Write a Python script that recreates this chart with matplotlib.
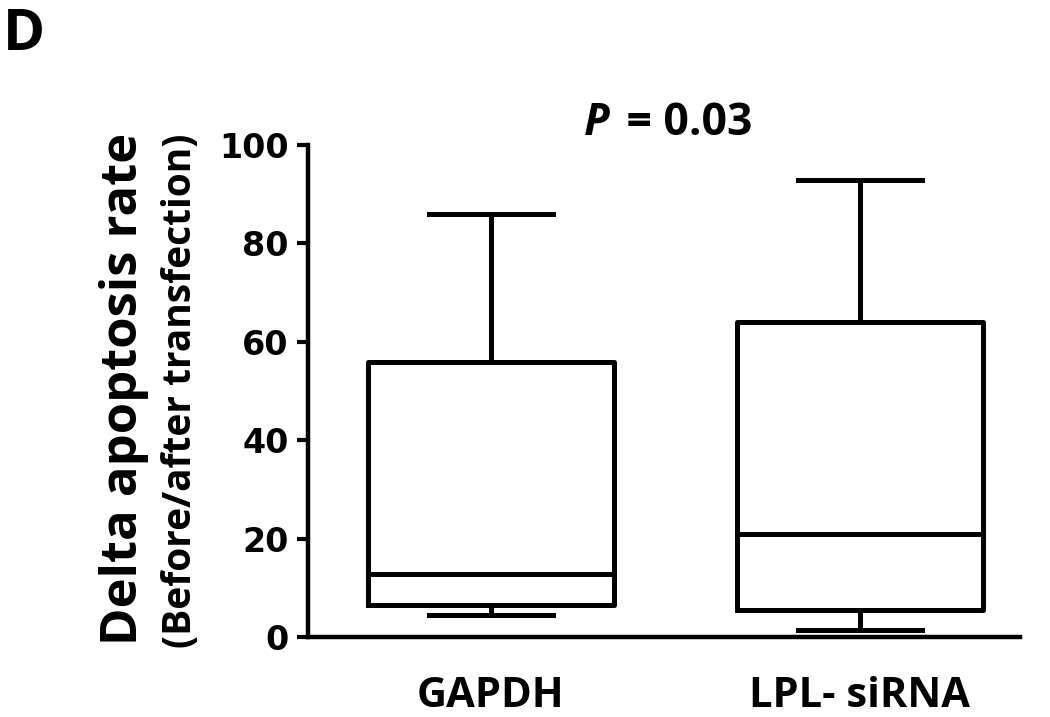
import matplotlib
matplotlib.use('Agg')
import matplotlib.pyplot as plt

# box plot summary
groups = ['GAPDH', 'LPL- siRNA']
whislo = [4.4, 1.4]
q1 = [6.5, 5.4]
med = [12.9, 21.0]
q3 = [55.9, 64.0]
whishi = [86.0, 93.0]
yticks = [0, 20, 40, 60, 80, 100]
pval = '0.03'

stats = []
for i in range(len(groups)):
    stats.append(dict(label=groups[i], whislo=whislo[i], q1=q1[i], med=med[i],
                      q3=q3[i], whishi=whishi[i], fliers=[]))

fig = plt.figure(figsize=(10.5, 7.17), dpi=100, facecolor='white')
ax = fig.add_axes([0.2933, 0.1116, 0.678, 0.686])

lw = 3.6
ax.bxp(stats, positions=[1, 2], widths=0.667, capwidths=0.336, showfliers=False,
       boxprops=dict(color='black', linewidth=lw),
       whiskerprops=dict(color='black', linewidth=lw),
       capprops=dict(color='black', linewidth=lw),
       medianprops=dict(color='black', linewidth=lw),
       manage_ticks=False)

ax.set_xlim(0.504, 2.434)
ax.set_ylim(0, 100)
ax.set_yticks(yticks)
ax.set_xticks([1, 2])
ax.set_xticklabels(groups, fontsize=30, fontweight='bold', family='Open Sans')
ax.tick_params(axis='x', length=0, pad=28)
ax.tick_params(axis='y', length=8, width=3, direction='out', pad=6)
for lab in ax.get_yticklabels():
    lab.set_fontsize(24)
    lab.set_fontweight('bold')
    lab.set_family('DejaVu Sans')

for s in ['top', 'right']:
    ax.spines[s].set_visible(False)
for s in ['left', 'bottom']:
    ax.spines[s].set_linewidth(3.2)

# y axis labels, two lines
fig.text(0.118, 0.458, 'Delta apoptosis rate', rotation=90, ha='center', va='center',
         fontsize=36.5, fontweight='bold', family='Open Sans')
fig.text(0.172, 0.455, '(Before/after transfection)', rotation=90, ha='center', va='center',
         fontsize=28, fontweight='bold', family='Open Sans')

# p value above the plot
t = fig.text(0.568, 0.812, 'P', fontsize=32, fontweight='bold', fontstyle='italic',
             family='Open Sans', ha='center', va='baseline')
ax.annotate(' = ' + pval, xy=(1, 0), xycoords=t, xytext=(4, 0), textcoords='offset points',
            va='bottom', ha='left', fontsize=32, fontweight='bold', family='Open Sans')

fig.text(0.003, 0.93, 'D', fontsize=41, fontweight='bold', family='Open Sans',
         ha='left', va='baseline')

fig.savefig('out.png', dpi=100)
